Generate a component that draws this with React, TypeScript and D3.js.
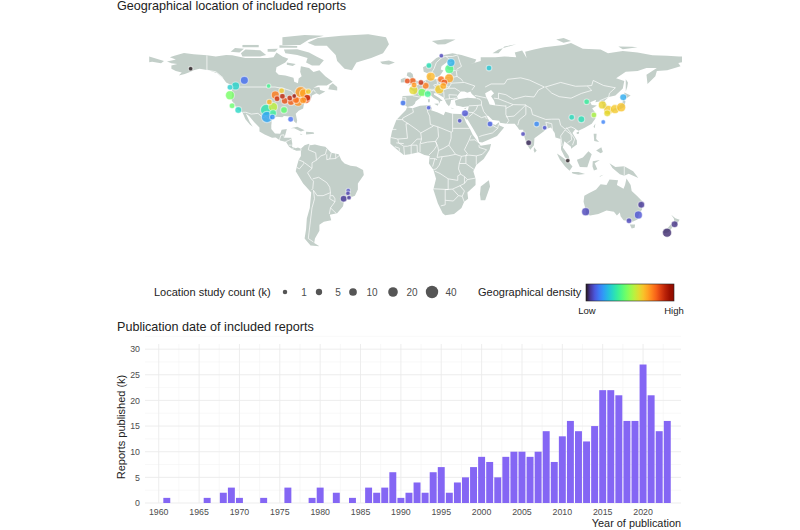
import React, { useEffect, useRef } from 'react';
import * as d3 from 'd3';

type LonLat = [number, number];

// reports per year (k), only years that have a bar
const years = [1961, 1966, 1968, 1969, 1970, 1973, 1976, 1979, 1980, 1982, 1984, 1986, 1987, 1988, 1989, 1990, 1991, 1992, 1993, 1994, 1995, 1996, 1997, 1998, 1999, 2000, 2001, 2002, 2003, 2004, 2005, 2006, 2007, 2008, 2009, 2010, 2011, 2012, 2013, 2014, 2015, 2016, 2017, 2018, 2019, 2020, 2021, 2022, 2023];
const reports = [1, 1, 2, 3, 1, 1, 3, 1, 3, 2, 1, 3, 2, 3, 6, 1, 2, 4, 2, 6, 7, 2, 4, 5, 7, 9, 8, 5, 9, 10, 10, 9, 10, 14, 8, 13, 16, 14, 12, 15, 22, 22, 21, 16, 16, 27, 21, 14, 16];
const yearTicks = d3.range(1960, 2021, 5);
const reportTicks = [0, 5, 10, 15, 20, 25, 30];

// legend
const sizeLegend = [1, 5, 10, 20, 40];
const sizeLegendDotX = [285, 319, 353, 393, 432];

// locations: lon, lat, study count (k), density 0-1
const americas = [
  [-152, 61, 1, 0], [-115.7, 53.4, 11, 0.13], [-121.6, 49.7, 11, 0.29], [-125.4, 48.8, 3, 0.28], [-125.4, 43.6, 16, 0.46],
  [-124, 36.8, 3, 0.44], [-119.8, 34, 6, 0.3], [-99.3, 49.7, 1, 0.38], [-101, 34, 31, 0.33], [-96.3, 36, 16, 0.55],
  [-96.3, 32, 6, 0.36], [-100.4, 29.4, 31, 0.21], [-96.8, 29.4, 3, 0.18], [-88.9, 34, 6, 0.43], [-98.8, 39.2, 3, 0.68],
  [-84.4, 27.9, 3, 0.13], [-94.8, 43.8, 11, 0.76], [-93.6, 41.4, 3, 0.87], [-90, 43, 3, 0.89], [-88.4, 40, 6, 0.82],
  [-85, 41.8, 3, 0.88], [-82, 43.1, 1, 0.96], [-84.2, 39.2, 6, 0.8], [-79.3, 39.4, 16, 0.73], [-77.6, 45.6, 31, 0.72],
  [-80.8, 40.5, 6, 0.78], [-74, 41.2, 16, 0.81], [-73.2, 42, 6, 0.88], [-75.4, 44.9, 16, 0.7], [-90.5, 46.6, 3, 0.64],
  [-72.5, 46, 3, 0.64], [-76, 40.3, 6, 0.72], [-45.5, -18.7, 1, 0.08], [-45.7, -20.5, 1, 0.06], [-48.6, -24, 6, 0.05], [-45, -23.3, 1, 0.05],
];
const europe = [
  [17.4, 69.5, 1, 0.07], [9, 63, 3, 0.32], [23.9, 65, 11, 0.23], [22.8, 60.8, 16, 0.4], [10.2, 55.8, 16, 0.67],
  [22.6, 54.7, 16, 0.7], [17.2, 54, 6, 0.78], [19.4, 51.9, 6, 0.81], [18.7, 49.7, 6, 0.69], [16, 47.5, 16, 0.64],
  [-5.6, 52.9, 3, 0.83], [-2, 52.9, 6, 0.8], [-1, 50.3, 3, 0.72], [3.6, 52, 3, 0.88], [6.8, 49.9, 6, 0.76],
  [-1.5, 47, 16, 0.61], [4.3, 45.5, 11, 0.46], [8.2, 44.4, 6, 0.38], [-8.5, 38.6, 3, 0.14], [8.8, 35.5, 1, 0.1],
];
const asiaPacific = [
  [33.4, 31.8, 6, 0.09], [29.8, 27, 1, 0.08], [50.3, 24.8, 3, 0.11], [72.6, 18.3, 1, 0.07], [76.4, 12.6, 3, 0.02],
  [81.8, 24.8, 3, 0.17], [87.2, 22.4, 1, 0.09], [102.8, 0.9, 1, 0], [49.6, 61.4, 3, 0.27], [105.5, 29.2, 3, 0.31],
  [112, 27.9, 6, 0.32], [115.6, 39.4, 3, 0.36], [120.5, 30.7, 3, 0.53], [126.8, 26.1, 1, 0.16], [126.2, 37.3, 11, 0.62],
  [129.5, 31.8, 6, 0.61], [130.2, 34, 16, 0.64], [134.7, 34.6, 16, 0.64], [138.9, 35.8, 16, 0.65], [140.3, 42.3, 6, 0.22],
  [114.9, -32.5, 11, 0.07], [152.5, -27.9, 6, 0.05], [150.5, -34.6, 11, 0.09], [144.2, -38.4, 3, 0.07], [175, -40.7, 6, 0.04], [169.9, -46.2, 16, 0.03],
];

// simplified coastlines, lon/lat
const americasLand: LonLat[] = [[-168, 65.6], [-164, 66.5], [-162, 67], [-166, 68.4], [-163, 69.5], [-156.5, 71.3], [-150, 70.5], [-141, 69.7], [-135, 69], [-128, 70], [-124, 69.8], [-115, 68], [-108, 68], [-100, 68], [-96, 68.5], [-94, 71.5], [-90, 69], [-86, 67.5], [-88, 65], [-94, 62], [-94.5, 59], [-92.5, 57], [-88, 56.5], [-82.5, 55], [-82, 52.5], [-79.5, 51.5], [-79, 54.5], [-77, 56], [-78, 59], [-77.5, 62.5], [-72, 61.5], [-69, 58.8], [-65, 60], [-61, 56], [-56, 52.5], [-60, 50], [-66, 50], [-69, 48.5], [-65, 49], [-64.5, 47], [-61, 46], [-65, 44], [-67, 45], [-70, 43.5], [-70.5, 41.7], [-74, 40.5], [-75.5, 37.5], [-76, 35], [-79, 33.5], [-81, 31.5], [-80, 27], [-80.5, 25.2], [-82, 26.5], [-83, 29], [-85, 29.7], [-89, 30], [-90, 29.2], [-94, 29.6], [-97, 28], [-97.5, 24], [-97.5, 21.5], [-95, 18.7], [-91.5, 18.5], [-90.5, 21], [-87, 21.5], [-88, 18], [-88.7, 15.8], [-84, 15.8], [-83.3, 12], [-83.5, 10], [-81, 9], [-79.5, 9.5], [-77.5, 8.7], [-75, 11], [-72, 12], [-71, 11], [-68, 11.5], [-64, 10.5], [-61, 10], [-57, 6], [-52, 5], [-50, 1], [-48, -1], [-44, -2.5], [-40, -3], [-35.5, -5.2], [-35, -8.5], [-39, -14], [-39, -18], [-41, -22], [-45, -23.5], [-48.5, -26], [-49, -29], [-53, -33.5], [-58, -34.5], [-57, -38], [-62, -39], [-65, -41], [-65, -45], [-68, -50], [-68.5, -53], [-65, -55], [-71, -54.5], [-75, -50], [-74, -44], [-73.5, -37], [-71.5, -30], [-70.5, -20], [-76, -14], [-81, -6], [-80, -2], [-79, 1.5], [-77.5, 4], [-77.5, 7.5], [-80.5, 7.3], [-83, 8.3], [-85.5, 10], [-87.5, 13], [-91.5, 14], [-94.5, 16], [-97, 15.8], [-102, 18], [-105.5, 20], [-105.5, 22.5], [-109, 26], [-112.5, 30], [-114.7, 31.7], [-112, 26], [-110, 23], [-112, 24.5], [-115, 28], [-117, 32.5], [-120.5, 34.5], [-122.5, 37.5], [-124.3, 40.3], [-124, 46], [-124.7, 48.4], [-122.5, 48.5], [-124, 50], [-128, 52], [-130, 54.5], [-134, 58], [-140, 60], [-146, 61], [-150, 60], [-152, 59], [-156, 57.5], [-160, 56.5], [-158, 58.5], [-162, 59.5], [-165, 61], [-165, 63], [-161, 64], [-165, 64.5]];
const eurasiaLand: LonLat[] = [[-9, 37], [-9.5, 38.7], [-8.8, 43.2], [-1.5, 43.5], [-1.2, 46], [-4.5, 48.4], [-1.5, 48.7], [1.5, 50.5], [4, 52], [8, 54], [8.5, 57], [10.5, 57.5], [10, 55], [12, 54.2], [14, 54], [19, 54.5], [21, 55.5], [21.5, 57.5], [24, 57.2], [23.5, 59.3], [30, 60], [23, 60], [21.3, 61], [21.5, 63], [25.3, 65], [22, 65.8], [17.5, 62.5], [17, 60.5], [18.8, 59.8], [16.5, 56.5], [14.3, 55.5], [13, 55.5], [11.2, 59], [8, 58], [5.5, 59], [5, 62], [10, 64.5], [14, 68], [19, 70], [25, 71], [31, 70], [41, 67], [40, 65], [37, 64], [44, 66], [44, 68.5], [54, 68.5], [60, 69], [68, 68.5], [67, 71.5], [72, 72.8], [75, 68], [74, 72], [80, 73.5], [87, 75], [100, 76.5], [105, 77.7], [113, 74], [125, 73.5], [130, 71], [140, 72.5], [150, 71.5], [160, 69.7], [170, 69.5], [178, 69], [180, 68.9], [180, 65.2], [177.5, 64.7], [179, 62.5], [170, 60], [163, 59.5], [162, 56], [156.7, 51], [156, 57], [163, 61.5], [156, 61.5], [150, 59.5], [142, 59], [135.5, 54.7], [141, 53], [140, 48], [135, 43.5], [130.5, 42.5], [127.5, 39.8], [129.5, 37], [129, 35.2], [126.5, 34.5], [126.5, 37.5], [125, 39.7], [121.5, 39], [122, 40.7], [118, 39], [119, 37.3], [122.5, 37], [119.3, 35], [122, 31.5], [121.5, 28.5], [119, 25], [114, 22.3], [110, 20.5], [108, 21.5], [106, 19], [109, 14], [109, 11.5], [105, 8.7], [105, 10], [100.5, 13.5], [99.5, 9.5], [103.5, 4], [104, 1.3], [101, 3], [98.3, 8], [98, 15], [94.5, 16], [94, 19], [91.5, 22.5], [88.5, 21.7], [86.5, 20], [80.3, 15.5], [80, 11], [77.5, 8], [75, 12], [73, 18], [72.7, 21], [70, 21], [69, 22.5], [67, 25], [61.5, 25], [57, 25.7], [56.5, 27], [52, 27.5], [49, 30.3], [48, 30], [50, 26.5], [51.5, 25], [54, 24.2], [56.3, 26], [56.5, 24], [59.8, 22.5], [55, 17], [45, 12.8], [43, 13], [42, 16.5], [39, 21.5], [35, 28], [34.3, 27.8], [32.8, 29.8], [32.5, 31.2], [35, 32.5], [36, 36.5], [32, 36], [30, 36.5], [27.3, 37], [26.5, 40], [29, 41], [35, 42], [41.5, 41.5], [38, 44.5], [37, 46], [35, 45.2], [33, 46], [30.5, 46], [28, 43], [28.5, 41.3], [26, 40.8], [24, 40.5], [23.5, 38], [22.5, 36.5], [21, 38], [19.5, 41], [19, 42.2], [14, 45], [12.3, 45], [12.5, 44], [16, 41.8], [18.3, 40], [16.5, 39.7], [16, 38], [15.5, 40], [12, 42], [10, 44], [8.5, 44.4], [4, 43.5], [3, 41.8], [0, 39.5], [-0.5, 38], [-2, 36.8], [-5.5, 36], [-7, 37]];
const africaLand: LonLat[] = [[-5.8, 35.8], [-2, 35.2], [3, 36.8], [10, 37.3], [11, 35], [10.5, 33.8], [15, 32.3], [19, 30.5], [20, 32.8], [25, 31.6], [30, 31.3], [32.5, 31.2], [32.5, 29.8], [34, 26], [37, 21], [38.5, 18], [43, 12], [44, 10.7], [51, 11.8], [50, 8], [46, 2], [41, -2], [39, -6], [40.5, -11], [40.5, -15], [35, -20], [35.5, -24], [32.8, -26], [31, -30], [26, -34], [20, -34.8], [18.3, -33.5], [15, -27], [12, -18], [13.8, -11], [12, -5], [9, -1], [9.5, 4], [6, 4.5], [2, 6.3], [-4, 5], [-8, 4.5], [-13, 8.5], [-17, 12], [-17, 15], [-16, 20], [-13, 27.5], [-9.5, 31], [-6.5, 34]];
const australiaLand: LonLat[] = [[114, -22], [113.5, -26], [115, -31.5], [115, -34.3], [118, -35], [123.5, -34], [129, -31.7], [134, -32.5], [136, -35], [138, -33], [138.5, -35.5], [140.5, -38], [144, -38.5], [146.5, -39], [150, -37.5], [151, -34], [153, -31], [153.5, -26], [149.5, -22], [146, -19], [145.3, -15], [142.5, -10.8], [141.5, -15], [140.5, -17.5], [136, -15], [136.8, -12], [131, -11.5], [129, -15], [125, -14.5], [122, -18], [117, -20.5]];
const islands: LonLat[][] = [
  [[-73, 78], [-66, 81], [-50, 82.5], [-32, 83.5], [-20, 81.5], [-18, 77], [-22, 71], [-30, 68], [-40, 65], [-43, 60], [-48, 61], [-53, 66], [-54, 70], [-60, 76], [-68, 76]],
  [[-80, 73.7], [-72, 71.5], [-67, 69], [-62, 66.5], [-65, 63], [-70, 63], [-74, 65], [-73, 68], [-80, 70], [-88, 71], [-89, 73.5]],
  [[-117, 69], [-105, 69], [-101, 70], [-105, 73], [-115, 73.5], [-118, 71]],
  [[-125, 72], [-119, 71.5], [-116, 74], [-122, 74.5]],
  [[-90, 76.5], [-78, 76.5], [-72, 80], [-62, 82.5], [-75, 83], [-90, 81.5]],
  [[-92, 74.7], [-80, 74.7], [-80, 75.8], [-92, 76.3]],
  [[-117, 75], [-106, 75], [-106, 76.5], [-117, 76.5]],
  [[-100, 72], [-95, 72], [-93, 74], [-100, 73.8]],
  [[-87, 65], [-81, 64], [-83, 62.7], [-87, 63.5]],
  [[-59, 47.6], [-53, 46.7], [-53, 49], [-56, 51.5], [-58, 50]],
  [[-84.5, 22], [-80, 23], [-75, 20.7], [-77.5, 19.9], [-82, 22]],
  [[-74, 19.8], [-69, 19.5], [-68.5, 18.4], [-74, 18]],
  [[-78.3, 18.4], [-76.3, 18.1], [-77.5, 17.8]],
  [[-180, 68.9], [-175, 67.5], [-170, 66], [-172, 64.5], [-178, 65.5], [-180, 65.2]],
  [[-5.5, 50], [1.4, 51.2], [1.7, 52.8], [0, 53.5], [-1.5, 55], [-2, 57.5], [-3.5, 58.6], [-5.5, 58.5], [-6, 56.5], [-3, 54.5], [-4.7, 53], [-5, 51.7], [-3, 51.3]],
  [[-10, 52], [-6.2, 52.2], [-6, 54], [-7, 55.3], [-10, 54]],
  [[-24, 65.5], [-18, 66.3], [-14, 65], [-18, 63.5], [-22.5, 64]],
  [[12.5, 38], [15.5, 38.2], [15, 36.7]],
  [[8.3, 41], [9.7, 41], [9.5, 39], [8.5, 39]],
  [[8.7, 42.6], [9.5, 42.8], [9.3, 41.5]],
  [[23.6, 35.5], [26.3, 35.2], [24.5, 34.9]],
  [[32.5, 35], [34.5, 35.6], [33.8, 34.7]],
  [[11, 79], [20, 80.3], [27, 80], [20, 77], [15, 76.8]],
  [[52, 71], [56, 73.5], [68, 77], [60, 75.5], [56, 71]],
  [[95, 80], [100, 81], [105, 79], [100, 78]],
  [[137, 75.5], [146, 75.3], [150, 75], [140, 73.7]],
  [[142, 54], [143.5, 52], [143, 49], [142, 46], [142, 50]],
  [[141.5, 41.5], [141, 45.5], [145.3, 43.5], [143, 42]],
  [[130.9, 33.9], [136, 35.6], [139.5, 38], [140.5, 41.3], [141.8, 39.5], [141, 36], [138.5, 34.7], [135.5, 33.7], [132, 34.3]],
  [[130, 33.5], [132, 33.5], [131.5, 31.3], [130.5, 31.2]],
  [[132.5, 34], [134.5, 34.2], [134, 33], [132.7, 33]],
  [[120.2, 23], [121.5, 25.2], [121, 22]],
  [[108.7, 19.3], [110.5, 20], [110.3, 18.5], [109, 18.3]],
  [[80, 9.7], [81.8, 7.5], [80.5, 6], [79.8, 7.5]],
  [[95.5, 5.5], [98, 4], [103.5, 0], [106, -3], [104, -5.7], [101, -3], [97.5, 1.5]],
  [[105.5, -6.5], [110, -6.5], [114.5, -7.8], [110, -8.3], [106, -7.5]],
  [[109, 1.5], [113, 3], [116.8, 7], [119, 5], [117.5, 1], [116, -3.5], [111, -3.2], [109.5, 0]],
  [[119.7, 0.5], [124.5, 1.3], [121, -0.8], [122.8, -4.8], [120.5, -5.5], [119.5, -3]],
  [[131, -0.8], [135, -3.2], [141, -2.7], [147, -6], [150.5, -10.5], [144, -7.7], [141, -9], [138, -8], [133, -4]],
  [[120.3, 18.5], [122.3, 18.4], [122, 15], [124, 13], [120.7, 13.8]],
  [[122, 7.5], [125.5, 9.7], [126.5, 6.5], [125, 5.7]],
  [[124, -10], [127, -8.4], [125, -9]],
  [[44, -16], [49.5, -12], [50.3, -16], [47, -25], [44, -25], [43.5, -21]],
  [[144.7, -40.8], [148.3, -40.8], [148, -43], [146, -43.5]],
  [[172.7, -34.5], [175.5, -36.8], [178.4, -37.7], [176.8, -40], [175.2, -41.6], [174.8, -39], [174.5, -37]],
  [[172.7, -40.6], [174.2, -41.6], [172.8, -43.7], [170.8, -45.9], [168.5, -46.6], [166.5, -45.8], [170.5, -43]],
];
const caspian: LonLat[] = [[47, 45], [51, 47], [53, 45], [51, 43], [53, 40], [54, 37], [50, 37.5], [49, 40], [47.5, 43]];

// country borders, lon/lat
const borders: LonLat[][] = [
  [[-141, 69.7], [-141, 60], [-135, 59], [-130, 55]],
  [[-123, 49], [-95, 49], [-89, 48], [-84, 46.5], [-82.5, 45], [-82.5, 42.5], [-79, 43], [-76, 44.5], [-74.5, 45], [-71, 45], [-69, 47.3], [-67.5, 45.5]],
  [[-117, 32.5], [-114.7, 32.5], [-111, 31.3], [-106.5, 31.8], [-103, 29], [-101, 29.7], [-97.3, 26]],
  [[-92, 14.5], [-91, 17.5], [-89, 17.8], [-88.7, 15.8]], [[-88, 13.2], [-86, 14], [-84, 15]], [[-85.7, 11], [-83.7, 11]], [[-83, 8.5], [-82.7, 9.5]], [[-77.4, 7.5], [-77.5, 8.7]],
  [[-71.5, 12], [-72.5, 8], [-67.5, 6], [-67, 1.2]], [[-67, 1.2], [-70, -0.5], [-70, -4.2]],
  [[-60, 8.5], [-61, 5], [-64, 4], [-67, 1.2]], [[-57, 6], [-58, 2]], [[-54, 5.7], [-54, 2.3]], [[-60, 5], [-60, 1.5], [-58, 2], [-54, 2.3], [-51.5, 4.3]],
  [[-79, 1.4], [-75.5, 0], [-75.5, -1], [-78.5, -4.5], [-80.3, -3.5]],
  [[-75, -0.5], [-70, -4.2], [-73, -7], [-70.5, -11], [-69, -12.5], [-69.5, -17.5], [-70.3, -18.3]],
  [[-69.5, -11], [-65.5, -10], [-60, -13.5], [-58, -16.5], [-57.5, -20], [-62.5, -22], [-66.5, -22], [-69, -18.5]],
  [[-69, -18.5], [-68.3, -24], [-70, -30], [-71, -38], [-72, -46], [-72.5, -50], [-69, -52.3]],
  [[-57.5, -20], [-58, -24], [-54.5, -26], [-54.5, -24], [-55.7, -22], [-57.5, -22]],
  [[-54.5, -26], [-57.5, -30], [-58.3, -34]], [[-57.5, -30], [-53.5, -33.7]],
  [[-2, 35], [-1.5, 32.5], [-8.7, 28.7], [-8.7, 27.3]], [[-13, 27.7], [-8.7, 27.7]], [[-13, 21.3], [-17, 21.3]],
  [[-8.7, 27.3], [-4.9, 25], [-6.5, 25], [-5.5, 15.5], [-12, 15], [-16.5, 16]],
  [[8.5, 37], [8, 33], [9.5, 30], [10, 24.5]], [[25, 31.7], [25, 20], [24, 19.5], [15, 23], [10, 24.5]], [[-4.9, 25], [1, 21], [3.5, 19], [12, 23.5]], [[25, 22], [36.5, 22]],
  [[24, 19.5], [24, 15.5], [22.5, 11], [24, 9], [27, 5], [31, 3.7], [34, 4.2], [35, 5.5], [33, 8], [34, 10], [36, 14], [37.5, 17.5]],
  [[15, 23], [15.5, 16.5], [13.5, 13.5], [15, 10], [15.5, 7.5], [19, 9], [22.5, 11]],
  [[3.5, 19], [4, 15], [3, 11.7], [3, 6.4]], [[3.5, 12], [8, 13], [13.5, 13.5], [14.5, 11], [12.5, 8], [9, 4.5]],
  [[-12, 15], [-11.5, 12.5], [-8, 10.3], [-5.5, 10.3], [-3, 11], [1, 15], [4, 15]],
  [[-3, 11], [-3, 5]], [[1, 11], [1.2, 6.1]], [[-8, 10], [-7.5, 4.5]], [[-13, 12.5], [-8, 12]], [[-14, 10], [-11, 9], [-11, 7]], [[-3, 11], [1, 11]],
  [[15.5, 7.5], [14.5, 3], [18, 3.5], [22, 4], [27, 5]], [[18, 3.5], [16, -2], [14, -4.5], [12, -5]], [[9.7, 2.2], [13, 2.2], [14.5, 1.5]], [[13, 2.2], [11.5, -3]],
  [[31, 3.7], [29.5, -1], [29, -4.5], [30.5, -8], [28.5, -9], [28.5, -12], [22, -11], [16.5, -7.5], [13, -6]],
  [[22, -11], [22, -18], [12, -17.5]], [[22, -18], [20, -18], [20, -28], [17, -28.7]], [[21, -18], [25, -17.7], [29, -22], [25.5, -25.5], [20, -25]],
  [[25, -17.7], [30, -15.5], [33, -14], [33, -9.5], [30.5, -8]], [[30, -15.5], [33, -19], [31.5, -22.4], [32.8, -26]], [[29, -22], [31.5, -22.4]],
  [[29.5, -1], [34, -1], [37.5, -3.5], [39.3, -4.7]], [[33, -9.5], [35, -11.5], [40.5, -10.5]], [[33, -14], [35, -11.5]], [[34, -1], [34, 4.2], [36, 4.5], [41, 4], [41, -1.7]],
  [[41, 4], [45, 5], [48, 8], [43, 9.5], [42.8, 11]], [[36.5, 14.3], [40, 14.5], [42.8, 12.5]],
  [[-1.8, 43.3], [3, 42.4]], [[-8.8, 42], [-6.5, 42], [-7, 37.2]], [[2.5, 51], [6, 49.5], [8, 49], [7.5, 47.5], [7, 46], [7.5, 43.8]], [[7, 46], [10, 46.8], [13.7, 46.5], [13.7, 45.6]],
  [[7, 53.3], [6, 51], [6, 49.5]], [[9, 54.8], [9.8, 54.8]], [[14.2, 54], [15, 51], [12.2, 50.3], [13.5, 48.7], [13, 47.5], [7.5, 47.5]], [[19, 54.4], [23, 54.3], [24, 51], [22.7, 49], [19, 49.5], [15, 51]],
  [[13.7, 45.6], [16.5, 46.5], [22, 48.2], [26.5, 48.2], [30, 46]], [[22, 48], [22.7, 49]], [[24, 51.5], [33, 52], [40, 49.7], [38, 47]], [[21, 56], [26, 55.5], [28, 56], [27.5, 59.5]], [[28, 56], [31, 54], [32, 52.5]],
  [[11.2, 59], [12.5, 61], [14, 65], [18, 68.5], [20.5, 69], [25, 69], [28.5, 70]], [[24, 66], [20.5, 69]], [[28.5, 69.5], [30, 65], [31, 62.5], [27.7, 60.5]], [[19, 46], [19.3, 42]], [[22.5, 44], [23, 41.3]], [[20, 41], [26.3, 41.7], [26, 40.8]], [[28, 43.7], [22.5, 44]],
  [[26.3, 41.7], [28, 41.8]], [[36, 36.7], [42, 37], [44.5, 37.3], [44.5, 39.7], [43.5, 41], [41.5, 41.5]], [[40, 43.5], [48, 41.8]], [[42, 37], [41, 34.5], [39, 32.3], [36, 32.5], [35.5, 33]], [[39, 32], [44.5, 29], [48, 30]], [[44.5, 37.3], [46, 33], [48.5, 30]],
  [[61, 37], [61, 31], [63, 27], [61.5, 25]], [[54, 37.2], [61, 36.5]], [[36, 29.5], [39, 32]], [[47, 29], [48.5, 28.5]], [[51, 24.5], [55.5, 22], [52, 19], [45, 17.3], [43, 16.6]], [[56, 24.5], [55.5, 22]],
  [[47, 49], [51, 51], [60, 51], [62, 54], [71, 55], [77, 53.5], [87, 49]], [[53, 41.7], [56, 41.3], [56, 45], [61, 44], [66, 41], [70, 42], [74, 43], [80, 42.5], [83, 47], [87, 49]], [[56, 41.3], [62, 39], [66, 37.5]],
  [[61, 35], [66, 37.5], [74.5, 37.3], [71, 34], [66.5, 30], [61, 29.5]], [[74.5, 37], [74.5, 31], [70, 27.5], [69, 24]], [[74.5, 37], [78, 35], [79, 31], [88, 27.8], [92, 28], [97, 28], [98, 24], [101, 21.5], [105, 23], [108, 21.6]],
  [[88, 26], [89, 22]], [[92.5, 21], [92, 25], [88, 26]], [[101, 21], [98, 17], [99, 11], [98, 10]], [[101, 21], [105, 18], [105.5, 14.5], [102.5, 12.5]], [[102, 22.5], [104, 20], [107.5, 15], [106, 11]],
  [[87.7, 49], [92, 45], [97, 42.7], [105, 41.7], [112, 44.8], [119, 46.8], [116, 49.7], [108, 49.5], [98, 52], [87.7, 49]], [[119, 50], [120, 53.3], [127, 50], [135, 48.5], [131, 45], [130.5, 42.5]], [[116, 49.7], [119, 50]], [[124.3, 40], [130.5, 42.5]], [[126.5, 37.8], [128.5, 38.5]], [[141, -2.7], [141, -9]],
];

const LAND = '#c3cfc9';
const INK = '#4d4d4d';
const SANS = '"Liberation Sans", Arial, sans-serif';

export default function App() {
  const svgRef = useRef<SVGSVGElement>(null);

  useEffect(() => {
    const svg = d3.select(svgRef.current);
    svg.html('');
    svg.style('font-family', SANS);

    // map, plain lon/lat scales
    const lonX = d3.scaleLinear().domain([-180, 180]).range([149.2, 682]);
    const latY = d3.scaleLinear().domain([0, 83]).range([162, 35]);
    const line = d3.line<LonLat>().x(d => lonX(d[0])).y(d => latY(d[1]));
    const ring = (pts: LonLat[]) => line(pts) + 'Z';

    const turbo = d3.scaleSequential(d3.interpolateTurbo).domain([0, 1]);
    const rScale = d3.scaleSqrt().domain([0, 40]).range([1.5, 6.2]);

    const map = svg.append('g');
    map.selectAll('path.land')
      .data([americasLand, eurasiaLand, africaLand, australiaLand, ...islands])
      .join('path')
      .attr('class', 'land')
      .attr('d', ring)
      .attr('fill', LAND);
    map.append('path').attr('d', ring(caspian)).attr('fill', '#fff');
    map.selectAll('path.border')
      .data(borders)
      .join('path')
      .attr('class', 'border')
      .attr('d', line)
      .attr('fill', 'none')
      .attr('stroke', '#fff')
      .attr('stroke-width', 0.7)
      .attr('stroke-linejoin', 'round');

    const locations = [...americas, ...europe, ...asiaPacific].sort((a, b) => b[2] - a[2]);
    map.selectAll('circle')
      .data(locations)
      .join('circle')
      .attr('cx', d => lonX(d[0]))
      .attr('cy', d => latY(d[1]))
      .attr('r', d => rScale(d[2]))
      .attr('fill', d => turbo(d[3]))
      .attr('fill-opacity', 0.8)
      .attr('stroke', '#fff')
      .attr('stroke-opacity', 0.5)
      .attr('stroke-width', 1.1);

    // titles
    const title = (label: string, y: number) =>
      svg.append('text').attr('x', 117).attr('y', y).attr('font-size', 12.6).attr('fill', '#222').text(label);
    title('Geographical location of included reports', 10);
    title('Publication date of included reports', 331);

    // size legend
    const legend = svg.append('g').attr('font-size', 11).attr('fill', '#222');
    legend.append('text').attr('x', 154).attr('y', 296).text('Location study count (k)');
    sizeLegend.forEach((v, i) => {
      const cx = sizeLegendDotX[i];
      legend.append('circle').attr('cx', cx).attr('cy', 292).attr('r', rScale(v)).attr('fill', '#555');
      legend.append('text').attr('x', cx + 19).attr('y', 296).attr('text-anchor', 'middle').attr('font-size', 10).attr('fill', INK).text(v);
    });

    // density legend
    legend.append('text').attr('x', 478).attr('y', 296).text('Geographical density');
    const grad = svg.append('defs').append('linearGradient').attr('id', 'density');
    d3.range(0, 1.001, 0.05).forEach(t => {
      grad.append('stop').attr('offset', `${t * 100}%`).attr('stop-color', turbo(t));
    });
    legend.append('rect').attr('x', 586).attr('y', 284).attr('width', 88).attr('height', 17)
      .attr('fill', 'url(#density)').attr('stroke', '#222').attr('stroke-width', 0.6);
    legend.append('text').attr('x', 587).attr('y', 314).attr('text-anchor', 'middle').attr('font-size', 9.5).text('Low');
    legend.append('text').attr('x', 674).attr('y', 314).attr('text-anchor', 'middle').attr('font-size', 9.5).text('High');

    // bars
    const x = d3.scaleLinear().domain([1958.3, 2024.7]).range([145, 681]);
    const y = d3.scaleLinear().domain([0, 31]).range([503, 344]);
    const chart = svg.append('g');

    const grid = (major: boolean, xs: number[], ys: number[]) => {
      const color = major ? '#ebebeb' : '#f4f4f4';
      const w = major ? 0.9 : 0.6;
      xs.forEach(v => chart.append('line').attr('x1', x(v)).attr('x2', x(v)).attr('y1', 344).attr('y2', 503).attr('stroke', color).attr('stroke-width', w));
      ys.forEach(v => chart.append('line').attr('x1', 145).attr('x2', 681).attr('y1', y(v)).attr('y2', y(v)).attr('stroke', color).attr('stroke-width', w));
    };
    grid(false, yearTicks.map(v => v + 2.5).filter(v => v < 2024), reportTicks.map(v => v + 2.5));
    grid(true, yearTicks, reportTicks);

    chart.selectAll('rect')
      .data(years)
      .join('rect')
      .attr('x', d => x(d - 0.43))
      .attr('width', x(0.86) - x(0))
      .attr('y', (d, i) => y(reports[i]))
      .attr('height', (d, i) => y(0) - y(reports[i]))
      .attr('fill', '#8466f4');

    chart.selectAll('text.xtick')
      .data(yearTicks)
      .join('text')
      .attr('class', 'xtick')
      .attr('x', d => x(d))
      .attr('y', 515)
      .attr('text-anchor', 'middle')
      .attr('font-size', 8.8)
      .attr('fill', INK)
      .text(d => d);
    chart.selectAll('text.ytick')
      .data(reportTicks)
      .join('text')
      .attr('class', 'ytick')
      .attr('x', 140)
      .attr('y', d => y(d) + 3.2)
      .attr('text-anchor', 'end')
      .attr('font-size', 8.8)
      .attr('fill', INK)
      .text(d => d);

    svg.append('text')
      .attr('transform', 'translate(125,427) rotate(-90)')
      .attr('text-anchor', 'middle')
      .attr('font-size', 11)
      .attr('fill', '#222')
      .text('Reports published (k)');
    svg.append('text')
      .attr('x', 681)
      .attr('y', 527)
      .attr('text-anchor', 'end')
      .attr('font-size', 10.9)
      .attr('fill', '#222')
      .text('Year of publication');
  }, []);

  return <svg ref={svgRef} width={800} height={530} style={{ position: 'absolute', top: 0, left: 0 }} />;
}
